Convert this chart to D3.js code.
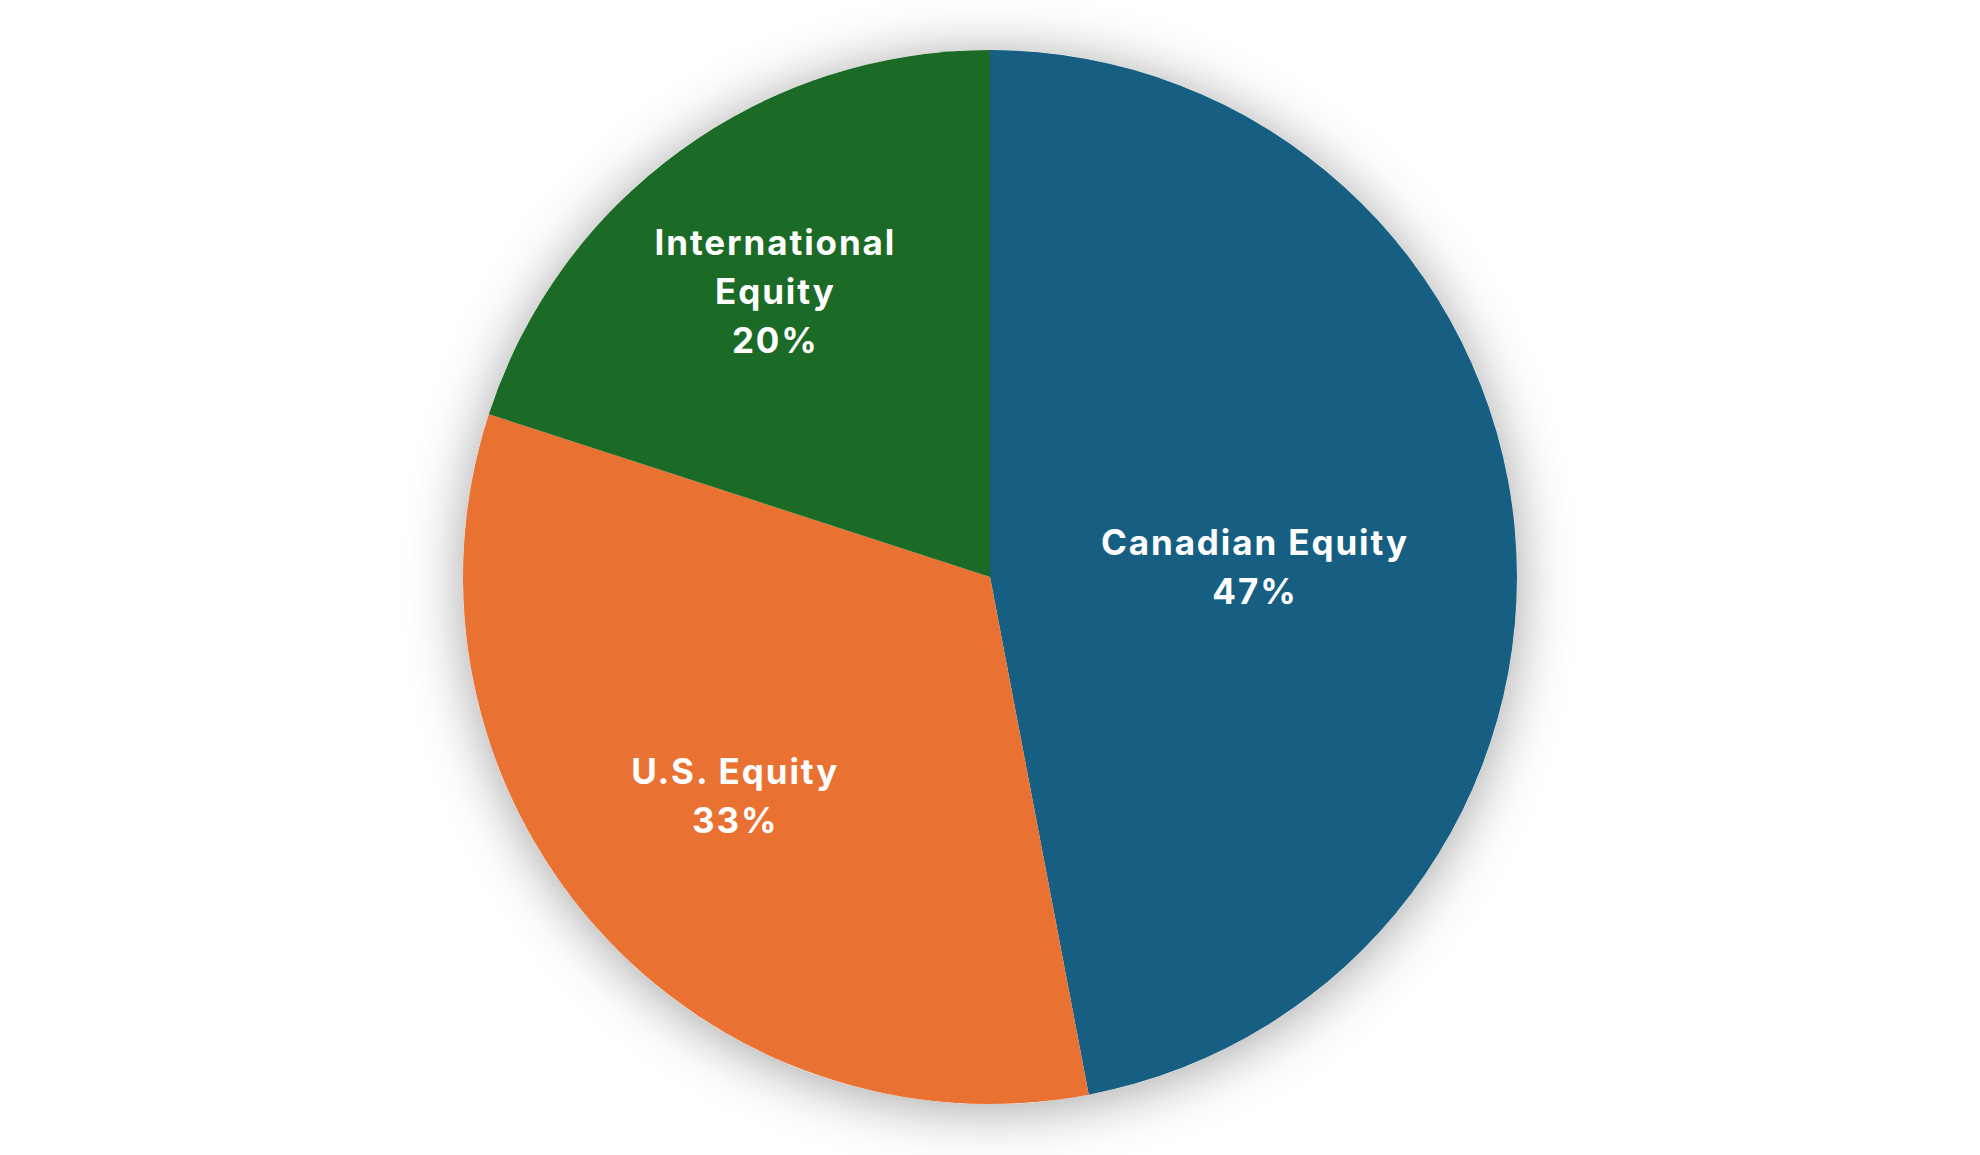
<!DOCTYPE html>
<html>
<head>
<meta charset="utf-8">
<script src="https://cdn.jsdelivr.net/npm/d3@7"></script>
<style>
  html, body { margin: 0; padding: 0; background: #ffffff; }
  svg { display: block; }
</style>
</head>
<body>
<svg id="chart" width="1980" height="1155"></svg>
<script>
// ---- data ----
const categories = ["Canadian Equity", "U.S. Equity", "International Equity"];
const values = [47, 33, 20];
const labelLines = [["Canadian Equity"], ["U.S. Equity"], ["International", "Equity"]];

// ---- layout / style ----
const W = 1980, H = 1155;
const cx = 990, cy = 577, R = 527;
const colors = ["#165F82", "#E97132", "#1B6A25"];
const labelRadiusFrac = [0.505, 0.637, 0.68];
const labelDy = [15, -4, 4];
const labelDx = [0, -3, -4];
const lineH = 49;

const svg = d3.select("#chart");

const defs = svg.append("defs");
const f = defs.append("filter").attr("id", "shadow")
  .attr("x", "-30%").attr("y", "-30%").attr("width", "160%").attr("height", "160%");
f.append("feDropShadow").attr("dx", 0).attr("dy", 5)
  .attr("stdDeviation", 28).attr("flood-color", "#000").attr("flood-opacity", 0.36);

const g = svg.append("g").attr("transform", `translate(${cx},${cy})`);

const pie = d3.pie().sort(null).value(d => d)(values);
const arc = d3.arc().innerRadius(0).outerRadius(R);

// shadow disk
g.append("circle").attr("r", R).attr("fill", "#ffffff").attr("filter", "url(#shadow)");

g.selectAll("path.slice").data(pie).join("path")
  .attr("class", "slice")
  .attr("d", arc)
  .attr("fill", (d, i) => colors[i]);

g.selectAll("text.lbl").data(pie).join("text")
  .attr("class", "lbl")
  .attr("text-anchor", "middle")
  .attr("fill", "#ffffff")
  .style("font-family", "Inter, 'Open Sans', sans-serif")
  .style("font-weight", 700)
  .style("font-size", "35px")
  .style("letter-spacing", "1.9px")
  .each(function(d, i) {
    const mid = (d.startAngle + d.endAngle) / 2;
    const r = R * labelRadiusFrac[i];
    const x = r * Math.sin(mid) + labelDx[i];
    const y = -r * Math.cos(mid) + labelDy[i];
    const lines = labelLines[i].concat([values[i] + "%"]);
    const n = lines.length;
    const firstBaseline = y - (n - 1) * lineH / 2 + 13;
    const t = d3.select(this);
    lines.forEach((ln, k) => {
      t.append("tspan").attr("x", x).attr("y", firstBaseline + k * lineH).text(ln);
    });
  });
</script>
</body>
</html>
